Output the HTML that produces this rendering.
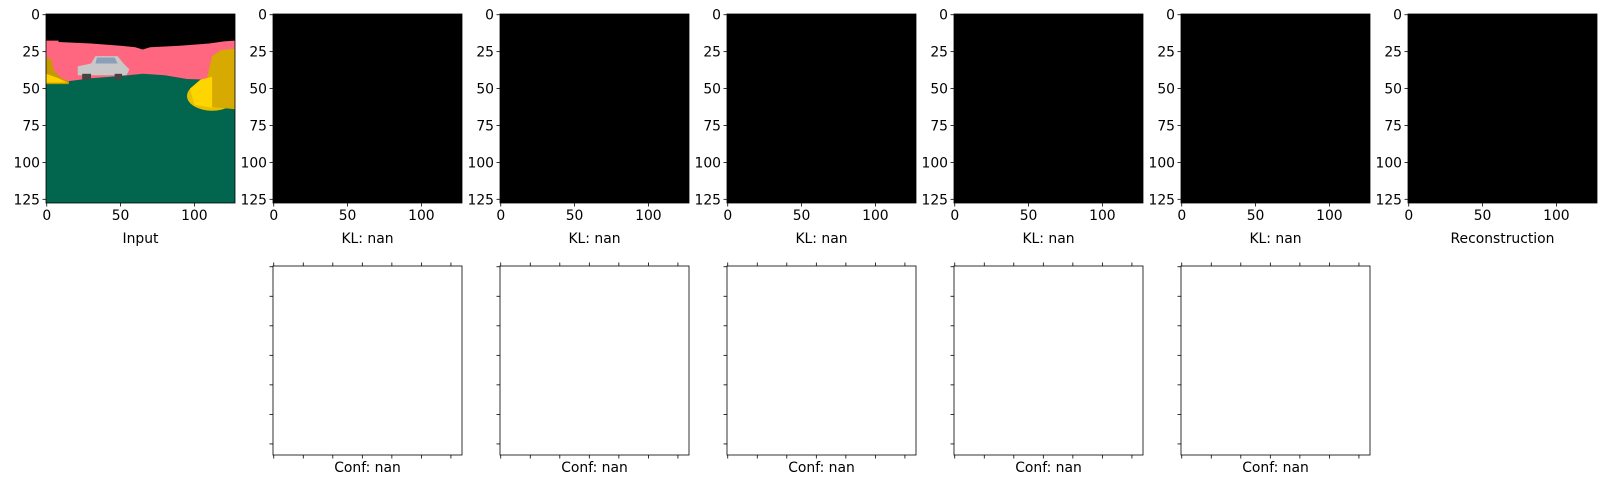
<!DOCTYPE html>
<html><head><meta charset="utf-8">
<style>
body{margin:0;background:#fff;}
svg{display:block;font-family:"DejaVu Sans","Liberation Sans",sans-serif;}
</style></head>
<body>
<svg id="fig" width="1621" height="499" viewBox="0 0 1621 499" xmlns="http://www.w3.org/2000/svg">
</svg>
<script>
const panelLefts=[46,273,500,727,954,1181,1408];
const topLabels=["Input","KL: nan","KL: nan","KL: nan","KL: nan","KL: nan","Reconstruction"];
const tickVals=[0,50,100];
const yTickVals=[0,25,50,75,100,125];
const confTicks=[0,20,40,60,80,100,120];
const bottomLabels=["Conf: nan","Conf: nan","Conf: nan","Conf: nan","Conf: nan"];
const NS="http://www.w3.org/2000/svg";
const svg=document.getElementById('fig');
const W=189, topY=14, botY=266;
const sc=W/128;
function px(v,left){return left+(v+0.5)*sc;}
function el(t,a,p){const e=document.createElementNS(NS,t);for(const k in a)e.setAttribute(k,a[k]);(p||svg).appendChild(e);return e;}
function txt(x,y,s,anchor,p){const t=el('text',{x:x,y:y,'font-size':13.9,'text-anchor':anchor,fill:'#000'},p);t.textContent=s;return t;}

panelLefts.forEach((L,i)=>{
  const g=el('g',{});
  
  
  if(i===0){
    const img=el('svg',{x:L,y:topY,width:W,height:W,viewBox:'-0.5 -0.5 128 128',preserveAspectRatio:'none'},g);
    
    
    el('rect',{x:-0.5,y:-0.5,width:128,height:128,fill:'#000'},img);
    el('polygon',{points:'-0.5,17.5 8,17.5 8,18.5 30,19.5 50,21 60,22 65,23.5 70,22 90,21 110,19.5 120,18 127.5,17.5 127.5,60 -0.5,60',fill:'#ff6680'},img);
    el('polygon',{points:'-0.5,46 15,45 30,43 50,41.5 65,40 80,41 95,43.5 110,44 127.5,44 127.5,127.5 -0.5,127.5',fill:'#02654e'},img);
    // right cone
    el('ellipse',{cx:112,cy:55,rx:17,ry:10,fill:'#e8c000'},img);
    el('polygon',{points:'112,28 118,24 127.5,23 127.5,64 108,62 108,45',fill:'#d6aa00'},img);
    el('polygon',{points:'97,50 104,44 112,42 112,63 100,61',fill:'#ffd500'},img);
    // left cone
    el('polygon',{points:'-0.5,29 3,30 5,38 10,43 15,45 15,47 -0.5,47',fill:'#c49a00'},img);
    el('polygon',{points:'-0.5,40 8,43 14,46 -0.5,46',fill:'#ffd000'},img);
    // car
    el('polygon',{points:'21,35 30,33 33,28 48,28 52,33 56,37 54,41 21,41',fill:'#c8c8c8'},img);
    el('polygon',{points:'34,29 46,29 48,33 33,33',fill:'#8aa0b8'},img);
    el('rect',{x:24,y:40,width:6,height:4,fill:'#444'},img);
    el('rect',{x:46,y:40,width:5,height:4,fill:'#444'},img);
  }else{
    const r=el('rect',{x:L,y:topY,width:W,height:W,fill:'#000'},g);
    
    
  }
  el('rect',{x:L,y:topY,width:W,height:W,fill:'none',stroke:'#000','stroke-width':0.8},g);
  tickVals.forEach(v=>{
    const x=px(v,L);
    el('line',{x1:x,x2:x,y1:topY+W,y2:topY+W+3.5,stroke:'#000','stroke-width':0.8},g);
    txt(x,topY+W+17,String(v),'middle',g);
  });
  yTickVals.forEach(v=>{
    const y=topY+(v+0.5)*sc;
    el('line',{x1:L-3.5,x2:L,y1:y,y2:y,stroke:'#000','stroke-width':0.8},g);
    txt(L-6,y+5,String(v),'end',g);
  });
  const lab=txt(L+W/2,topY+W+40,topLabels[i],'middle',g);
  
  
});

bottomLabels.forEach((s,i)=>{
  const L=panelLefts[i+1];
  const g=el('g',{});
  
  
  el('rect',{x:L,y:botY,width:W,height:W,fill:'#fff',stroke:'#000','stroke-width':0.8},g);
  confTicks.forEach(v=>{
    const x=px(v,L);
    el('line',{x1:x,x2:x,y1:botY-3.5,y2:botY,stroke:'#000','stroke-width':0.8},g);
    el('line',{x1:x,x2:x,y1:botY+W,y2:botY+W+3.5,stroke:'#000','stroke-width':0.8},g);
    const y=botY+(v+0.5)*sc;
    el('line',{x1:L-3.5,x2:L,y1:y,y2:y,stroke:'#000','stroke-width':0.8},g);
  });
  const lab=txt(L+W/2,botY+W+17,s,'middle',g);
  
  
});
</script>
</body></html>
